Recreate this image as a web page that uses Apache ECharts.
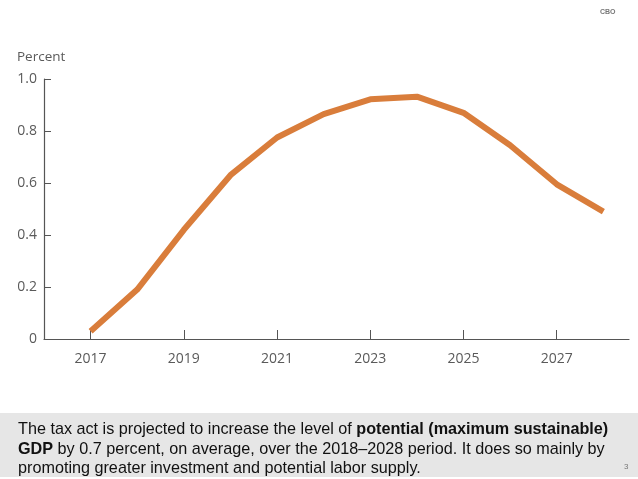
<!DOCTYPE html>
<html><head><meta charset="utf-8">
<script src="https://cdn.jsdelivr.net/npm/echarts@6/dist/echarts.min.js"></script>
<style>html,body{margin:0;padding:0;background:#fff}#c{width:638px;height:479px}</style>
</head><body><div id="c"></div>
<script>
const years = [2017,2018,2019,2020,2021,2022,2023,2024,2025,2026,2027,2028];
const values = [0.03,0.19,0.42,0.63,0.775,0.865,0.922,0.932,0.87,0.745,0.595,0.49];
const xTicks = [2017,2019,2021,2023,2025,2027];
const yTicks = [0,0.2,0.4,0.6,0.8,1.0];
const yTitle = 'Percent';
const caption = 'The tax act is projected to increase the level of {b|potential (maximum sustainable)}\n{b|GDP} by 0.7 percent, on average, over the 2018\u20132028 period. It does so mainly by\npromoting greater investment and potential labor supply.';

const chart = echarts.init(document.getElementById('c'), null, {renderer:'canvas'});
const axisFont = {fontFamily:'Open Sans', fontSize:14, color:'#5a5a5a'};
chart.setOption({
  animation:false,
  grid:{left:44,right:9,top:79,bottom:140},
  xAxis:{type:'value',min:2016,max:2028.55,
    axisLine:{lineStyle:{color:'#555',width:1.2}},
    axisTick:{show:true,inside:true,length:9,customValues:xTicks,lineStyle:{color:'#555'}},
    axisLabel:Object.assign({customValues:xTicks,margin:13,formatter:v=>String(v)},axisFont),
    splitLine:{show:false}},
  yAxis:{type:'value',min:0,max:1,interval:0.2,
    axisLine:{show:true,lineStyle:{color:'#555',width:1.2}},
    axisTick:{show:true,inside:true,length:7,lineStyle:{color:'#555'}},
    axisLabel:Object.assign({margin:7,formatter:v=>v===0?'0':v.toFixed(1)},axisFont),
    splitLine:{show:false}},
  series:[{type:'line',data:years.map((y,i)=>[y,values[i]]),showSymbol:false,
    lineStyle:{color:'#d97d3b',width:6,join:'round'},itemStyle:{color:'#d97d3b'}}],
  graphic:[
    {type:'text',left:17,top:50,style:{text:yTitle,fontFamily:'Open Sans',fontSize:13.5,fill:'#5a5a5a'}},
    {type:'text',left:600,top:9,style:{text:'CBO',fontFamily:'Liberation Sans',fontSize:7,fontWeight:'bold',fill:'#777'}},
    {type:'rect',shape:{x:0,y:413,width:638,height:64},style:{fill:'#e6e6e6'}},
    {type:'text',left:18,top:420,style:{text:caption,fontFamily:'Liberation Sans',fontSize:16.2,lineHeight:19.5,fill:'#111',
      rich:{b:{fontWeight:'bold',fontFamily:'Liberation Sans',fontSize:16.2,lineHeight:19.5,fill:'#111'}}}},
    {type:'text',left:624,top:463,style:{text:'3',fontFamily:'Liberation Sans',fontSize:8,fill:'#777'}}
  ]
});
</script></body></html>
